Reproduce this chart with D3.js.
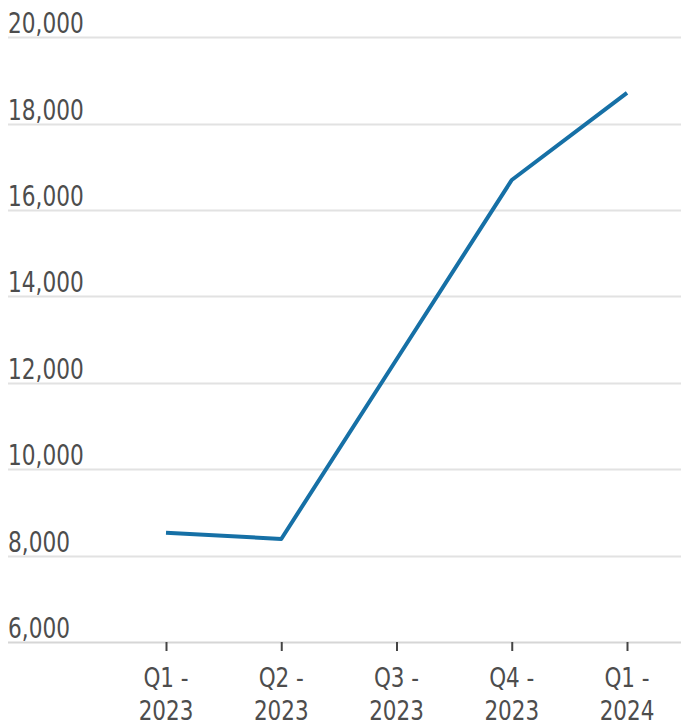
<!DOCTYPE html>
<html>
<head>
<meta charset="utf-8">
<script src="https://cdn.jsdelivr.net/npm/d3@7"></script>
<style>
  html, body { margin: 0; padding: 0; background: #fff; }
  svg text { font-family: "Liberation Sans Narrow", "DejaVu Sans Condensed", "DejaVu Sans", sans-serif; fill: #4d4d4d; }
</style>
</head>
<body>
<svg id="chart" width="681" height="723"></svg>
<script>
const categories = ["Q1 - 2023", "Q2 - 2023", "Q3 - 2023", "Q4 - 2023", "Q1 - 2024"];
const values = [8530, 8385, 12540, 16695, 18710];
const yTicks = [6000, 8000, 10000, 12000, 14000, 16000, 18000, 20000];

const svg = d3.select("#chart");
const W = 681, H = 723;

const x = d3.scalePoint().domain(categories).range([166, 627]);
const y = d3.scaleLinear().domain([6000, 20000]).range([642, 37.2]);

// gridlines + y labels
const grid = svg.append("g");
grid.selectAll("line").data(yTicks).join("line")
  .attr("x1", 8).attr("x2", W)
  .attr("y1", d => Math.round(y(d)) + 0.5).attr("y2", d => Math.round(y(d)) + 0.5)
  .attr("stroke", d => d === 6000 ? "#d6d6d6" : "#e2e2e2")
  .attr("stroke-width", 2);
grid.selectAll("text").data(yTicks).join("text")
  .attr("transform", d => `translate(8,${y(d) - 4}) scale(0.86,1)`)
  .attr("font-size", 28)
  .text(d => d3.format(",")(d));

// x axis
const xAxis = d3.axisBottom(x).tickSize(9).tickFormat("");
const gx = svg.append("g").attr("transform", `translate(0,${y(6000)})`).call(xAxis);
gx.select(".domain").remove();
gx.selectAll(".tick line").attr("stroke", "#444").attr("stroke-width", 2);

const labels = svg.append("g");
categories.forEach(c => {
  const parts = c.split(" - ");
  const t = labels.append("text")
    .attr("text-anchor", "middle")
    .attr("font-size", 26)
    .attr("transform", `translate(${x(c)},687) scale(0.92,1)`);
  t.append("tspan").attr("x", 0).attr("dy", 0).text(parts[0] + " -");
  t.append("tspan").attr("x", 0).attr("dy", 33).text(parts[1]);
});

// line
const line = d3.line().x((d, i) => x(categories[i])).y(d => y(d));
svg.append("path")
  .datum(values)
  .attr("d", line)
  .attr("fill", "none")
  .attr("stroke", "#1670a6")
  .attr("stroke-width", 4)
  .attr("stroke-linejoin", "round");
</script>
</body>
</html>
